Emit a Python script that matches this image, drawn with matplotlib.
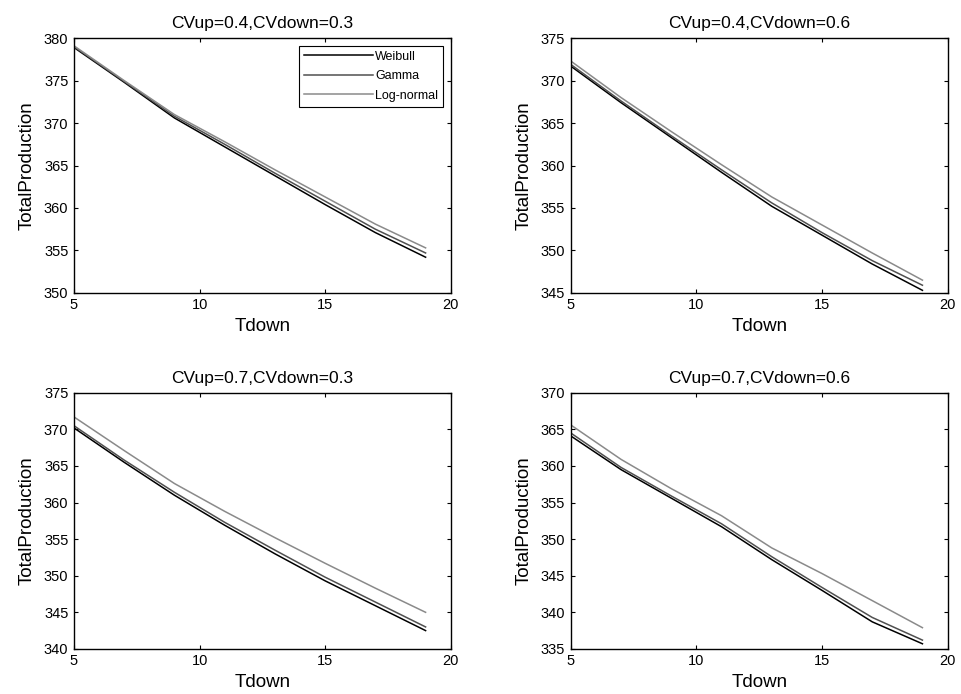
import matplotlib.pyplot as plt

# フォント設定
plt.rcParams["font.family"] = ["Liberation Sans", "DejaVu Sans"]
plt.rcParams["xtick.direction"] = "in"
plt.rcParams["ytick.direction"] = "in"
plt.rcParams["xtick.top"] = True
plt.rcParams["ytick.right"] = True

tdown = [5, 7, 9, 11, 13, 15, 17, 19]
labels = ["Weibull", "Gamma", "Log-normal"]
titles = ["CVup=0.4,CVdown=0.3", "CVup=0.4,CVdown=0.6",
          "CVup=0.7,CVdown=0.3", "CVup=0.7,CVdown=0.6"]

# CVup=0.4, CVdown=0.3
weibull_1 = [378.9, 374.8, 370.6, 367.2, 363.8, 360.4, 357.1, 354.2]
gamma_1 = [379.0, 374.9, 370.8, 367.5, 364.1, 360.8, 357.5, 354.7]
lognorm_1 = [379.1, 375.0, 371.0, 367.8, 364.5, 361.3, 358.1, 355.3]
# CVup=0.4, CVdown=0.6
weibull_2 = [371.7, 367.4, 363.3, 359.2, 355.2, 351.8, 348.4, 345.3]
gamma_2 = [371.9, 367.6, 363.5, 359.5, 355.6, 352.1, 348.8, 345.9]
lognorm_2 = [372.3, 368.0, 364.0, 360.1, 356.3, 353.0, 349.7, 346.5]
# CVup=0.7, CVdown=0.3
weibull_3 = [370.2, 365.5, 361.0, 356.9, 353.0, 349.3, 345.9, 342.5]
gamma_3 = [370.5, 365.8, 361.4, 357.3, 353.5, 349.8, 346.4, 343.0]
lognorm_3 = [371.7, 367.1, 362.6, 358.8, 355.2, 351.7, 348.3, 345.0]
# CVup=0.7, CVdown=0.6
weibull_4 = [364.1, 359.5, 355.6, 351.7, 347.2, 343.0, 338.7, 335.7]
gamma_4 = [364.5, 359.8, 355.9, 352.1, 347.6, 343.4, 339.3, 336.2]
lognorm_4 = [365.6, 360.9, 356.9, 353.2, 348.8, 345.3, 341.6, 337.9]

series = [(weibull_1, gamma_1, lognorm_1), (weibull_2, gamma_2, lognorm_2),
          (weibull_3, gamma_3, lognorm_3), (weibull_4, gamma_4, lognorm_4)]
ylims = [(350, 380), (345, 375), (340, 375), (335, 370)]
colors = ["black", "#505050", "#8a8a8a"]

fig = plt.figure(figsize=(9.61, 6.94), dpi=100)
rects = [[0.077, 0.578, 0.392, 0.367], [0.594, 0.578, 0.392, 0.367],
         [0.077, 0.065, 0.392, 0.369], [0.594, 0.065, 0.392, 0.369]]

for i in range(4):
    ax = fig.add_axes(rects[i])
    for ys, c, lab in zip(series[i], colors, labels):
        ax.plot(tdown, ys, color=c, linewidth=1.1, label=lab)
    ax.set_xlim(5, 20)
    ax.set_ylim(*ylims[i])
    ax.set_xticks([5, 10, 15, 20])
    ax.set_title(titles[i], fontsize=12.5, pad=7)
    ax.set_xlabel("Tdown", fontsize=13.5, labelpad=4)
    ax.set_ylabel("TotalProduction", fontsize=13.5, labelpad=6)
    ax.tick_params(labelsize=10.5, length=3, pad=4)
    for s in ax.spines.values():
        s.set_linewidth(1.0)
    if i == 0:
        leg = ax.legend(loc="upper right", fontsize=9, handlelength=5.5,
                        fancybox=False, edgecolor="black", framealpha=1,
                        borderaxespad=0.6, handletextpad=0.2, labelspacing=0.6)
        leg.get_frame().set_linewidth(0.8)

plt.savefig("out.png", dpi=100)
